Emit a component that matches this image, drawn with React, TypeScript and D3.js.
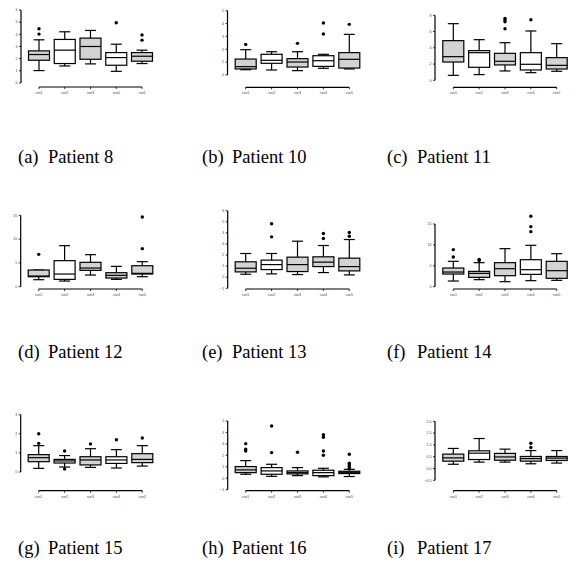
import React from "react";
import * as d3 from "d3";

const categories = ["run1", "run2", "run3", "run4", "run5"];

const patientNames = ["Patient 8", "Patient 10", "Patient 11", "Patient 12", "Patient 13", "Patient 14", "Patient 15", "Patient 16", "Patient 17"];
const panelLetters = ["(a)", "(b)", "(c)", "(d)", "(e)", "(f)", "(g)", "(h)", "(i)"];

// [whiskerLow, q1, median, q3, whiskerHigh] per run
const p8Stats = [[1.02, 1.87, 2.34, 2.64, 3.55], [1.4, 1.6, 2.7, 3.58, 4.21], [1.57, 1.95, 3.0, 3.69, 4.32], [0.96, 1.46, 2.09, 2.5, 3.19], [1.6, 1.79, 2.2, 2.5, 2.7]];
const p8Outliers = [[4.46, 4.02], [], [], [4.95], [3.94, 3.52]];
const p10Stats = [[0.41, 0.47, 0.65, 1.24, 1.97], [0.39, 0.91, 1.14, 1.61, 1.81], [0.34, 0.62, 1.01, 1.27, 1.81], [0.52, 0.67, 1.11, 1.5, 1.61], [0.47, 0.54, 1.22, 1.74, 3.16]];
const p10Outliers = [[2.38], [], [2.46], [4.04, 3.19], [3.94]];
const p11Stats = [[0.61, 2.25, 2.91, 4.88, 6.97], [0.7, 1.6, 3.4, 3.65, 5.0], [1.15, 1.89, 2.34, 3.32, 4.63], [0.94, 1.27, 1.97, 3.4, 6.07], [1.11, 1.39, 1.84, 2.79, 4.51]];
const p11Outliers = [[], [], [7.62, 7.42, 7.21, 6.35], [7.46], []];
const p12Stats = [[1.47, 2.1, 2.24, 3.5, 3.5], [1.19, 1.54, 2.66, 5.47, 8.62], [2.45, 3.43, 3.92, 5.12, 6.73], [1.54, 1.82, 2.38, 2.94, 4.27], [2.1, 2.66, 2.8, 4.41, 5.26]];
const p12Outliers = [[6.8], [], [], [], [14.65, 7.99]];
const p13Stats = [[0.27, 0.48, 0.81, 1.39, 2.14], [0.3, 0.69, 1.14, 1.54, 2.14], [0.24, 0.51, 1.14, 1.81, 3.25], [0.42, 0.96, 1.36, 1.84, 2.86], [0.21, 0.57, 0.96, 1.72, 3.4]];
const p13Outliers = [[], [4.82, 3.64], [], [3.95, 3.49], [4.04, 3.7]];
const p14Stats = [[1.36, 3.03, 3.51, 4.47, 6.07], [1.68, 2.23, 3.19, 3.67, 5.75], [1.2, 2.63, 4.31, 5.75, 9.1], [1.44, 2.95, 4.07, 6.46, 9.9], [1.52, 2.0, 3.83, 6.07, 7.9]];
const p14Outliers = [[8.86, 7.1], [6.5, 6.25], [], [16.84, 14.37, 13.17], []];
const p15Stats = [[0.19, 0.54, 0.75, 0.91, 1.38], [0.26, 0.47, 0.58, 0.66, 0.86], [0.24, 0.37, 0.63, 0.8, 1.22], [0.21, 0.45, 0.63, 0.8, 1.17], [0.31, 0.49, 0.66, 0.96, 1.38]];
const p15Outliers = [[2.0, 1.5], [1.1, 0.16], [1.47], [1.69], [1.78]];
const p16Stats = [[0.35, 0.49, 0.73, 1.02, 1.54], [0.17, 0.35, 0.64, 0.93, 1.22], [0.23, 0.38, 0.49, 0.64, 0.93], [0.12, 0.23, 0.49, 0.7, 0.87], [0.15, 0.41, 0.52, 0.61, 0.78]];
const p16Outliers = [[3.02, 2.53, 2.38], [4.56, 2.24], [2.27], [3.81, 3.58, 2.38, 2.01], [2.09, 1.31, 1.16, 1.02, 0.87]];
const p17Stats = [[0.18, 0.31, 0.45, 0.61, 0.85], [0.27, 0.38, 0.65, 0.75, 1.27], [0.27, 0.35, 0.49, 0.64, 0.82], [0.2, 0.31, 0.42, 0.51, 0.76], [0.23, 0.34, 0.44, 0.51, 0.76]];
const p17Outliers = [[], [], [], [1.07, 0.89], []];

// whether each box is shaded
const p8Shade = [1, 0, 1, 0, 1];
const p10Shade = [1, 0, 1, 0, 1];
const p11Shade = [1, 0, 1, 0, 1];
const p12Shade = [1, 0, 1, 1, 1];
const p13Shade = [1, 0, 1, 1, 1];
const p14Shade = [1, 1, 1, 0, 1];
const p15Shade = [1, 0, 1, 0, 1];
const p16Shade = [1, 0, 1, 0, 1];
const p17Shade = [1, 0, 1, 1, 1];

const yDomains = [[0, 6], [0, 5], [0, 8], [0, 15], [-1, 6], [0, 15], [0, 3], [-1, 5], [-0.5, 2.0]];
const yTicks = [[0, 1, 2, 3, 4, 5, 6], [0, 1, 2, 3, 4, 5], [0, 2, 4, 6, 8], [0, 5, 10, 15], [-1, 0, 1, 2, 3, 4, 5, 6], [0, 5, 10, 15], [0, 1, 2, 3], [-1, 0, 1, 2, 3, 4, 5], [-0.5, 0, 0.5, 1.0, 1.5, 2.0]];

const allStats = [p8Stats, p10Stats, p11Stats, p12Stats, p13Stats, p14Stats, p15Stats, p16Stats, p17Stats];
const allOutliers = [p8Outliers, p10Outliers, p11Outliers, p12Outliers, p13Outliers, p14Outliers, p15Outliers, p16Outliers, p17Outliers];
const allShade = [p8Shade, p10Shade, p11Shade, p12Shade, p13Shade, p14Shade, p15Shade, p16Shade, p17Shade];

// layout (pixel geometry of each panel)
const layouts = [
  { ax: 21, yb: 83, yt: 10, xa: 87, x0: 39, x1: 142, cy: 163 },
  { ax: 227.5, yb: 75, yt: 10.7, xa: 87.3, x0: 245.7, x1: 349.3, cy: 163 },
  { ax: 435, yb: 80.3, yt: 15.3, xa: 87.3, x0: 453.3, x1: 556.7, cy: 163 },
  { ax: 20.7, yb: 286.7, yt: 215.3, xa: 289, x0: 38.7, x1: 142.3, cy: 358 },
  { ax: 227.7, yb: 288.3, yt: 210.7, xa: 289, x0: 245.7, x1: 349.3, cy: 358 },
  { ax: 435, yb: 286.7, yt: 224, xa: 289, x0: 453.3, x1: 556.7, cy: 358 },
  { ax: 20.7, yb: 472, yt: 414.7, xa: 490.7, x0: 38.7, x1: 142.3, cy: 554 },
  { ax: 227.7, yb: 489.7, yt: 421, xa: 490.7, x0: 245.7, x1: 349.3, cy: 554 },
  { ax: 435, yb: 480.3, yt: 421.3, xa: 490.7, x0: 453.3, x1: 556.7, cy: 554 },
];
const captionX = [18, 202, 387];

const BOX_W = 21;
const CAP_W = 11;
const SW = 1.2;

function Panel({ i }: { i: number }) {
  const L = layouts[i];
  const y = d3.scaleLinear().domain(yDomains[i]).range([L.yb, L.yt]);
  const x = d3.scalePoint<string>().domain(categories).range([L.x0, L.x1]);
  const fmt = i === 8 ? d3.format(".1f") : d3.format("d");
  const stats = allStats[i];
  const col = i % 3;
  return (
    <g>
      {/* y axis */}
      <line x1={L.ax} x2={L.ax} y1={y(yDomains[i][0])} y2={y(yDomains[i][1])} stroke="#000" strokeWidth={SW} />
      {yTicks[i].map((t) => (
        <g key={t}>
          <line x1={L.ax - 2} x2={L.ax} y1={y(t)} y2={y(t)} stroke="#000" strokeWidth={0.8} />
          <text x={L.ax - 3.5} y={y(t)} dy="0.35em" fontSize={3.6} textAnchor="end" fill="#444" fontFamily="Liberation Sans, Arial, sans-serif">{fmt(t)}</text>
        </g>
      ))}
      {/* x axis */}
      <line x1={L.x0} x2={L.x1} y1={L.xa} y2={L.xa} stroke="#000" strokeWidth={SW} />
      {categories.map((c) => (
        <g key={c}>
          <line x1={x(c)} x2={x(c)} y1={L.xa} y2={L.xa + 2} stroke="#000" strokeWidth={0.8} />
          <text x={x(c)} y={L.xa + 7} fontSize={3.6} textAnchor="middle" fill="#444" fontFamily="Liberation Sans, Arial, sans-serif">{c}</text>
        </g>
      ))}
      {/* boxes */}
      {categories.map((c, k) => {
        const [lo, q1, med, q3, hi] = stats[k];
        const cx = x(c) as number;
        return (
          <g key={c}>
            <line x1={cx} x2={cx} y1={y(hi)} y2={y(q3)} stroke="#000" strokeWidth={SW} />
            <line x1={cx} x2={cx} y1={y(q1)} y2={y(lo)} stroke="#000" strokeWidth={SW} />
            <line x1={cx - CAP_W / 2} x2={cx + CAP_W / 2} y1={y(hi)} y2={y(hi)} stroke="#000" strokeWidth={SW} />
            <line x1={cx - CAP_W / 2} x2={cx + CAP_W / 2} y1={y(lo)} y2={y(lo)} stroke="#000" strokeWidth={SW} />
            <rect x={cx - BOX_W / 2} y={y(q3)} width={BOX_W} height={Math.max(0.5, y(q1) - y(q3))} fill={allShade[i][k] ? "#d3d3d3" : "#fff"} stroke="#000" strokeWidth={SW} />
            <line x1={cx - BOX_W / 2} x2={cx + BOX_W / 2} y1={y(med)} y2={y(med)} stroke="#000" strokeWidth={SW} />
            {allOutliers[i][k].map((o, m) => (
              <circle key={m} cx={cx} cy={y(o)} r={1.7} fill="#000" />
            ))}
          </g>
        );
      })}
      {/* caption */}
      <text x={captionX[col]} y={L.cy} fontSize={18.5} fontFamily="Liberation Serif, Times New Roman, serif" fill="#000">
        {panelLetters[i]}
      </text>
      <text x={captionX[col] + 30} y={L.cy} fontSize={18.5} fontFamily="Liberation Serif, Times New Roman, serif" fill="#000">
        {patientNames[i]}
      </text>
    </g>
  );
}

export default function App() {
  return (
    <svg width={577} height={575} style={{ position: "absolute", left: 0, top: 0, background: "#fff" }}>
      <rect width={577} height={575} fill="#fff" />
      {patientNames.map((_, i) => (
        <Panel key={i} i={i} />
      ))}
    </svg>
  );
}
